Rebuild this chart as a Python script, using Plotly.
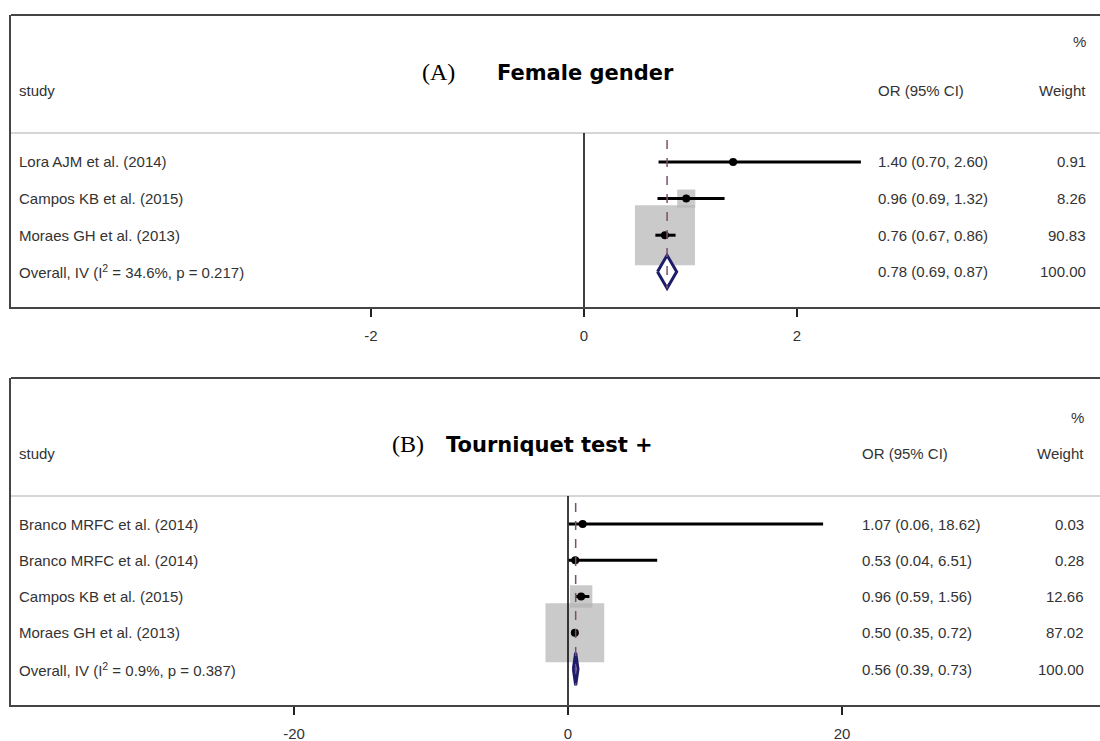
import plotly.graph_objects as go

# ---------------- data ----------------
a_studies = ["Lora AJM et al. (2014)", "Campos KB et al. (2015)", "Moraes GH et al. (2013)"]
a_or = [1.40, 0.96, 0.76]
a_lo = [0.70, 0.69, 0.67]
a_hi = [2.60, 1.32, 0.86]
a_weight = [0.91, 8.26, 90.83]
a_overall_label = "Overall, IV (I<sup>2</sup> = 34.6%, p = 0.217)"
a_overall = [0.78, 0.69, 0.87]  # estimate, low, high
a_ticks = [-2, 0, 2]
a_title = ["(A)", "Female gender"]

b_studies = ["Branco MRFC et al. (2014)", "Branco MRFC et al. (2014)",
             "Campos KB et al. (2015)", "Moraes GH et al. (2013)"]
b_or = [1.07, 0.53, 0.96, 0.50]
b_lo = [0.06, 0.04, 0.59, 0.35]
b_hi = [18.62, 6.51, 1.56, 0.72]
b_weight = [0.03, 0.28, 12.66, 87.02]
b_overall_label = "Overall, IV (I<sup>2</sup> = 0.9%, p = 0.387)"
b_overall = [0.56, 0.39, 0.73]
b_ticks = [-20, 0, 20]
b_title = ["(B)", "Tourniquet test +"]

# ---------------- layout geometry (pixels) ----------------
W, H = 1100, 741
BOX_LEFT = 11
TXT_FONT = "Liberation Sans, Arial, sans-serif"
TXT_COLOR = "#333333"
TXT_SIZE = 15
BOX_SCALE = 6.3

panels = [
    dict(studies=a_studies, est=a_or, lo=a_lo, hi=a_hi, w=a_weight,
         ov_label=a_overall_label, ov=a_overall, ticks=a_ticks, title=a_title,
         top=15, bottom=307, sep=133, row0=162, step=36.6, x0px=584, pxper=106.5,
         orx=876, wx=1088, pct_y=42, hdr_y=91, title_y=72,
         tA_x=438, tB_x=495, ax="x", ay="y"),
    dict(studies=b_studies, est=b_or, lo=b_lo, hi=b_hi, w=b_weight,
         ov_label=b_overall_label, ov=b_overall, ticks=b_ticks, title=b_title,
         top=378, bottom=705, sep=496, row0=524, step=36.25, x0px=568, pxper=13.7,
         orx=860, wx=1086, pct_y=417, hdr_y=453, title_y=444,
         tA_x=408, tB_x=444, ax="x2", ay="y2"),
]

fig = go.Figure()
annotations = []
shapes = []

for k, p in enumerate(panels):
    n = len(p["studies"])
    rows = list(range(n))
    ov_row = n
    to_row = lambda py, p=p: (py - p["row0"]) / p["step"]

    # weight squares
    fig.add_trace(go.Scatter(
        x=p["est"], y=rows, mode="markers", xaxis=p["ax"], yaxis=p["ay"],
        marker=dict(symbol="square", color="#b3b3b3",
                    size=[BOX_SCALE * (wt ** 0.5) for wt in p["w"]], line=dict(width=0)),
        hoverinfo="skip", showlegend=False))
    # CI lines
    cx, cy = [], []
    for i in rows:
        cx += [p["lo"][i], p["hi"][i], None]
        cy += [i, i, None]
    fig.add_trace(go.Scatter(x=cx, y=cy, mode="lines", xaxis=p["ax"], yaxis=p["ay"],
                             line=dict(color="black", width=3), hoverinfo="skip",
                             showlegend=False))
    # point estimates
    fig.add_trace(go.Scatter(x=p["est"], y=rows, mode="markers", xaxis=p["ax"], yaxis=p["ay"],
                             marker=dict(symbol="circle", color="black", size=8),
                             hoverinfo="skip", showlegend=False))
    # overall diamond
    e, l, h = p["ov"]
    hh = 0.45
    fig.add_trace(go.Scatter(x=[l, e, h, e, l], y=[ov_row, ov_row - hh, ov_row, ov_row + hh, ov_row],
                             mode="lines", fill="toself", fillcolor="white",
                             xaxis=p["ax"], yaxis=p["ay"],
                             line=dict(color="#1c1c6b", width=3), hoverinfo="skip",
                             showlegend=False))

    xr = [(BOX_LEFT - p["x0px"]) / p["pxper"], (W - p["x0px"]) / p["pxper"]]
    yr = [to_row(p["bottom"]), to_row(p["top"])]
    xname = "xaxis" if k == 0 else "xaxis2"
    yname = "yaxis" if k == 0 else "yaxis2"
    fig.layout[xname] = dict(
        domain=[BOX_LEFT / W, 1.0], range=xr, anchor=p["ay"],
        tickvals=p["ticks"], ticktext=[str(t) for t in p["ticks"]],
        ticks="outside", ticklen=8, tickwidth=1.5, tickcolor="#222",
        showline=True, linecolor="#444", linewidth=2,
        showgrid=False, zeroline=False, ticklabelstandoff=6,
        tickfont=dict(family=TXT_FONT, size=TXT_SIZE, color=TXT_COLOR),
        fixedrange=True)
    fig.layout[yname] = dict(
        domain=[1 - p["bottom"] / H, 1 - p["top"] / H], range=yr, anchor=p["ax"],
        showline=True, linecolor="#444", linewidth=2, showticklabels=False,
        ticks="", showgrid=False, zeroline=False, fixedrange=True)

    # top border and header separator
    shapes.append(dict(type="line", xref="paper", yref="paper", x0=BOX_LEFT / W, x1=1.0,
                       y0=1 - p["top"] / H, y1=1 - p["top"] / H,
                       line=dict(color="#444", width=2)))
    shapes.append(dict(type="line", xref="paper", yref="paper", x0=BOX_LEFT / W, x1=1.0,
                       y0=1 - p["sep"] / H, y1=1 - p["sep"] / H,
                       line=dict(color="#c8c8c8", width=1.5)))
    # null line at 0
    shapes.append(dict(type="line", xref=p["ax"], yref=p["ay"], x0=0, x1=0,
                       y0=to_row(p["sep"]), y1=to_row(p["bottom"]),
                       line=dict(color="black", width=1.5)))
    # dashed overall line
    shapes.append(dict(type="line", xref=p["ax"], yref=p["ay"], x0=e, x1=e,
                       y0=to_row(p["sep"] + 7), y1=ov_row + hh,
                       line=dict(color="#7d4f6e", width=1.5, dash="dash")))

    def txt(x, y, s, anchor="left", size=TXT_SIZE, fam=TXT_FONT, color=TXT_COLOR):
        annotations.append(dict(x=x / W, y=y, xref="paper", yref=p["ay"], text=s,
                                showarrow=False, xanchor=anchor, yanchor="middle",
                                font=dict(family=fam, size=size, color=color)))

    labels = p["studies"] + [p["ov_label"]]
    ests = p["est"] + [p["ov"][0]]
    los = p["lo"] + [p["ov"][1]]
    his = p["hi"] + [p["ov"][2]]
    wts = p["w"] + [100.0]
    for i in range(n + 1):
        txt(17, i, labels[i])
        txt(p["orx"], i, f"{ests[i]:.2f} ({los[i]:.2f}, {his[i]:.2f})")
        txt(p["wx"], i, f"{wts[i]:.2f}", anchor="right")
    txt(17, to_row(p["hdr_y"]), "study")
    txt(p["orx"], to_row(p["hdr_y"]), "OR (95% CI)")
    txt(p["wx"], to_row(p["hdr_y"]), "Weight", anchor="right")
    txt(p["wx"], to_row(p["pct_y"]), "%", anchor="right")
    txt(p["tA_x"], to_row(p["title_y"]), p["title"][0], anchor="center", size=24,
        fam="Liberation Serif, Times New Roman, serif", color="black")
    txt(p["tB_x"], to_row(p["title_y"] + 1), "<b>" + p["title"][1] + "</b>", anchor="left",
        size=21, fam="DejaVu Sans, sans-serif", color="black")

fig.update_layout(width=W, height=H, margin=dict(l=0, r=0, t=0, b=0, pad=0),
                  paper_bgcolor="white", plot_bgcolor="white",
                  annotations=annotations, shapes=shapes, showlegend=False)

fig.write_html("out.html")
